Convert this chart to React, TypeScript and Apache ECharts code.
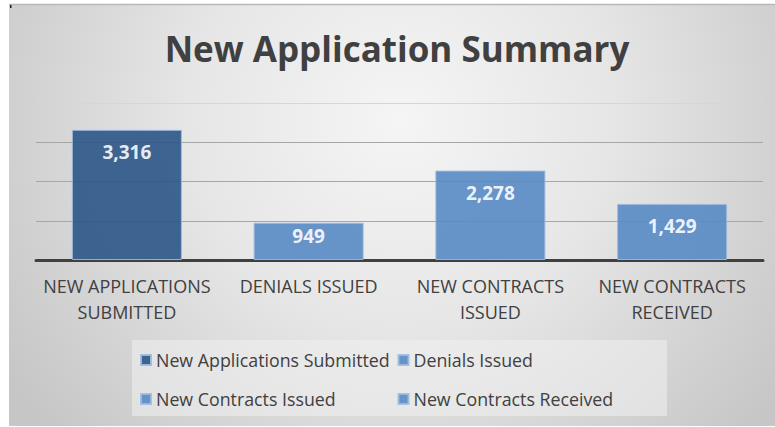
import React, { useEffect, useRef } from "react";
import * as echarts from "echarts";

const title = "New Application Summary";
const categories = [
  "New Applications Submitted",
  "Denials Issued",
  "New Contracts Issued",
  "New Contracts Received",
];
const values = [3316, 949, 2278, 1429];
const barColors = ["#2b5588", "#5889c4", "#5889c4", "#5889c4"];
const yTicks = [0, 1000, 2000, 3000, 4000];
const legendLeftColumn = ["New Applications Submitted", "New Contracts Issued"];
const legendRightColumn = ["Denials Issued", "New Contracts Received"];

const FONT = "'Open Sans', 'Noto Sans', sans-serif";

export default function App() {
  const ref = useRef<HTMLDivElement>(null);

  useEffect(() => {
    if (!ref.current) return;
    const chart = echarts.init(ref.current, undefined, { renderer: "svg" });

    const series = categories.map((name, i) => ({
      name,
      type: "bar",
      stack: "all",
      barWidth: 110,
      data: values.map((v, j) => (j === i ? v : "-")),
      itemStyle: {
        color: barColors[i],
        opacity: 0.9,
        borderColor: "#9dbbe0",
        borderWidth: 1,
      },
      label: {
        show: true,
        position: "insideTop",
        distance: values[i] < 1000 ? 4 : 13,
        color: "#ffffff",
        fontFamily: FONT,
        fontWeight: "bold",
        fontSize: 19,
        formatter: (p: any) => Number(p.value).toLocaleString("en-US"),
      },
    }));

    const legendCommon = {
      orient: "vertical",
      top: 345,
      itemWidth: 10,
      itemHeight: 10,
      itemGap: 19,
      itemTextGap: 5,
      icon: "rect",
      selectedMode: false,
      textStyle: {
        color: "#404040",
        fontFamily: FONT,
        fontSize: 17.8,
        lineHeight: 20,
      },
    };

    chart.setOption({
      animation: false,
      graphic: [
        {
          type: "rect",
          z: -10,
          silent: true,
          shape: { x: 9, y: 4, width: 766, height: 422 },
          style: {
            fill: {
              type: "radial",
              x: 400,
              y: 120,
              r: 470,
              global: true,
              colorStops: [
                { offset: 0, color: "#f5f5f5" },
                { offset: 0.45, color: "#e6e6e6" },
                { offset: 1, color: "#c6c6c6" },
              ],
            },
          },
        },
        {
          type: "line",
          z: -9,
          silent: true,
          shape: { x1: 9, y1: 4.5, x2: 775, y2: 4.5 },
          style: { stroke: "#b8b8b8", lineWidth: 1.5 },
        },
        {
          type: "rect",
          z: -9,
          silent: true,
          shape: { x: 10, y: 5, width: 1.5, height: 3 },
          style: { fill: "#202020" },
        },
        {
          type: "rect",
          z: -8,
          silent: true,
          shape: { x: 132, y: 340, width: 535, height: 76 },
          style: { fill: "rgba(240,240,240,0.55)" },
        },
        {
          type: "text",
          x: 397,
          y: 48,
          silent: true,
          style: {
            text: title,
            fill: "#404040",
            font: `bold 35px ${FONT}`,
            textAlign: "center",
            textVerticalAlign: "middle",
          },
        },
      ],
      grid: { left: 36, right: 12, top: 103, bottom: 167 },
      legend: [
        { ...legendCommon, left: 135, data: legendLeftColumn },
        { ...legendCommon, left: 392.5, data: legendRightColumn },
      ],
      xAxis: {
        type: "category",
        data: categories,
        axisTick: { show: false },
        axisLine: { lineStyle: { color: "#404040", width: 3 } },
        axisLabel: {
          interval: 0,
          margin: 13,
          color: "#404040",
          fontFamily: FONT,
          fontSize: 18,
          lineHeight: 26,
          formatter: (v: string) => {
            const u = v.toUpperCase();
            if (u.length <= 15) return u;
            const k = u.lastIndexOf(" ");
            return u.slice(0, k) + "\n" + u.slice(k + 1);
          },
        },
      },
      yAxis: {
        type: "value",
        min: yTicks[0],
        max: yTicks[yTicks.length - 1],
        interval: yTicks[1] - yTicks[0],
        axisLabel: { show: false },
        axisLine: { show: false },
        axisTick: { show: false },
        splitLine: {
          lineStyle: {
            color: ["#a6a6a6", "#a6a6a6", "#a6a6a6", "#a6a6a6", "#d6d6d6"],
            width: 1,
          },
        },
      },
      series,
    });

    return () => chart.dispose();
  }, []);

  return (
    <div
      ref={ref}
      style={{ position: "absolute", left: 0, top: 0, width: 775, height: 427 }}
    />
  );
}
